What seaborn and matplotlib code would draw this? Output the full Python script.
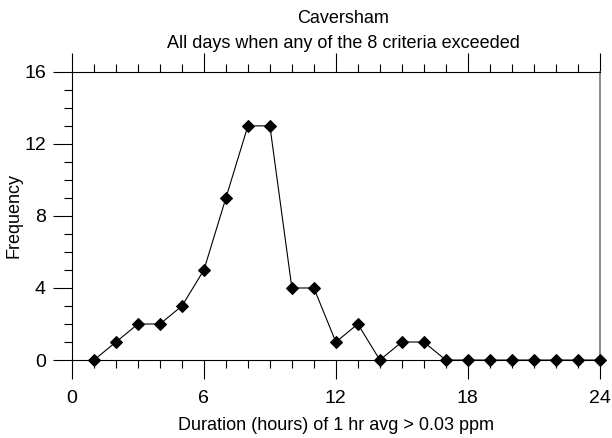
import numpy as np
import pandas as pd
import matplotlib
matplotlib.use("Agg")
import matplotlib.pyplot as plt
from matplotlib.ticker import MultipleLocator
import seaborn as sns

sns.set_style("white")
plt.rcParams['font.family'] = ['Liberation Sans', 'DejaVu Sans']
plt.rcParams['text.color'] = 'black'
plt.rcParams['axes.labelcolor'] = 'black'
plt.rcParams['xtick.color'] = 'black'
plt.rcParams['ytick.color'] = 'black'

hours = list(range(1, 25))
freq = [0, 1, 2, 2, 3, 5, 9, 13, 13, 4, 4, 1, 2, 0, 1, 1, 0, 0, 0, 0, 0, 0, 0, 0]
x_ticks = [0, 6, 12, 18, 24]
y_ticks = [0, 4, 8, 12, 16]

df = pd.DataFrame({"hours": hours, "freq": freq})

fig, ax = plt.subplots(figsize=(6.12, 4.38), dpi=100)
fig.subplots_adjust(left=0.1176, right=0.980, top=0.836, bottom=0.178)

sns.lineplot(data=df, x="hours", y="freq", ax=ax, color="black", linewidth=0.8,
             marker="D", markersize=6.5, markeredgecolor="black", clip_on=False, zorder=5)

ax.set_xlim(0, 24)
ax.set_ylim(0, 16)
ax.set_xticks(x_ticks)
ax.set_yticks(y_ticks)
ax.xaxis.set_minor_locator(MultipleLocator(1))
ax.yaxis.set_minor_locator(MultipleLocator(1))
ax.tick_params(axis="x", which="both", direction="out", top=True, bottom=True,
               labeltop=False, labelsize=14)
ax.tick_params(axis="y", which="both", direction="out", left=True, right=False,
               labelsize=14)
ax.tick_params(axis="x", which="major", length=13.7, width=0.8, pad=8)
ax.tick_params(axis="y", which="major", length=13.7, width=0.8, pad=5)
ax.tick_params(which="minor", length=5.8, width=0.8)

for s in ["left", "bottom", "top"]:
    ax.spines[s].set_color("black")
    ax.spines[s].set_linewidth(0.8)
ax.spines["right"].set_color("#777777")
ax.spines["right"].set_linewidth(1.2)

ax.set_xlabel("Duration (hours) of 1 hr avg > 0.03 ppm", fontsize=13, labelpad=7)
ax.set_ylabel("Frequency", fontsize=13, labelpad=1)

fig.text(343 / 612, 1 - 23 / 438, "Caversham", ha="center", va="baseline", fontsize=13)
fig.text(343 / 612, 1 - 48 / 438, "All days when any of the 8 criteria exceeded",
         ha="center", va="baseline", fontsize=13)

fig.savefig("out.png", dpi=100)
